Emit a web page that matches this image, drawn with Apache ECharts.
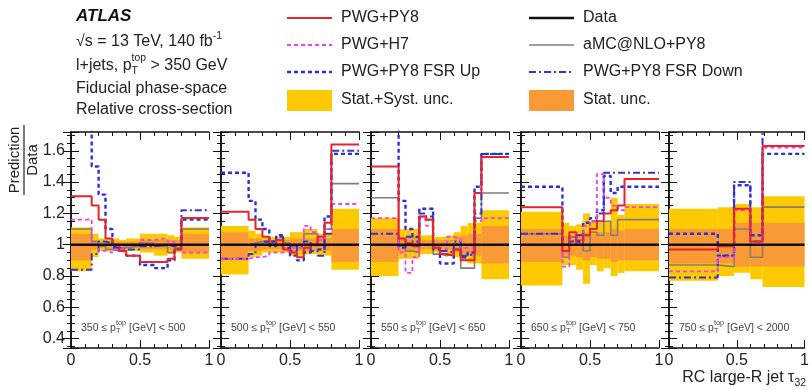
<!DOCTYPE html>
<html>
<head>
<meta charset="utf-8">
<script src="https://cdn.jsdelivr.net/npm/echarts@6/dist/echarts.min.js"></script>
<style>
  html, body { margin: 0; background: #fff; }
  #chart { width: 812px; height: 390px; }
</style>
</head>
<body>
<div id="chart"></div>
<script>
// bin edges per pT slice
const edges = [
  [0, 0.15, 0.2, 0.25, 0.3, 0.35, 0.4, 0.5, 0.6, 0.7, 0.75, 0.8, 1],
  [0, 0.2, 0.25, 0.3, 0.35, 0.4, 0.45, 0.5, 0.55, 0.6, 0.65, 0.7, 0.75, 0.8, 1],
  [0, 0.2, 0.25, 0.3, 0.35, 0.4, 0.45, 0.5, 0.55, 0.6, 0.65, 0.7, 0.75, 0.8, 1],
  [0, 0.3, 0.35, 0.4, 0.45, 0.5, 0.55, 0.6, 0.65, 0.7, 0.75, 1],
  [0, 0.36, 0.48, 0.6, 0.69, 1]
];
const pwgPy8 = [
  [1.31, 1.25, 1.16, 1.04, 1.0, 0.96, 0.93, 0.89, 0.89, 0.91, 0.97, 1.17],
  [1.21, 1.16, 1.1, 1.05, 1.0, 1.03, 0.97, 0.95, 0.92, 0.98, 1.0, 1.05, 1.14, 1.64],
  [1.5, 1.04, 1.01, 0.99, 1.18, 1.16, 0.98, 0.94, 0.93, 0.97, 0.9, 0.9, 1.33, 1.56],
  [1.24, 0.96, 1.08, 1.0, 1.06, 1.1, 1.15, 1.2, 1.22, 1.25, 1.42],
  [0.97, 0.99, 1.23, 1.02, 1.63]
];
const pwgH7 = [
  [1.16, 1.0, 0.96, 0.95, 0.97, 0.98, 1.0, 1.03, 1.04, 1.02, 1.0, 0.95],
  [0.91, 0.92, 0.92, 0.93, 0.95, 0.95, 0.96, 0.98, 0.98, 1.12, 1.08, 1.03, 1.1, 1.26],
  [1.17, 0.95, 0.82, 0.92, 1.16, 1.12, 0.98, 0.97, 1.05, 1.04, 0.98, 0.98, 1.15, 1.17],
  [1.0, 0.86, 1.05, 1.0, 1.12, 1.15, 1.45, 1.3, 1.25, 1.22, 1.24],
  [0.83, 0.92, 1.22, 1.0, 1.62]
];
const fsrUp = [
  [1.75, 1.5, 1.32, 1.1, 0.99, 0.96, 0.93, 0.87, 0.85, 0.9, 0.97, 1.16],
  [1.46, 1.28, 1.16, 1.1, 1.02, 1.06, 0.98, 0.93, 0.9, 0.95, 1.0, 0.97, 1.18, 1.58],
  [1.75, 1.28, 1.1, 1.05, 1.23, 1.23, 0.97, 0.88, 0.88, 1.0, 0.92, 0.95, 1.37, 1.58],
  [1.37, 1.0, 1.05, 1.02, 1.14, 1.17, 1.22, 1.44, 1.33, 1.37, 1.37],
  [1.07, 0.93, 1.38, 1.06, 1.58]
];
const fsrDown = [
  [0.84, 0.94, 1.02, 1.01, 0.98, 0.97, 0.97, 0.99, 1.0, 0.99, 1.0, 1.22],
  [0.91, 0.94, 1.0, 1.02, 0.99, 1.05, 1.0, 0.96, 0.99, 1.02, 0.96, 0.93, 1.07, 1.6],
  [1.07, 0.98, 1.05, 1.02, 1.2, 1.18, 0.98, 0.96, 0.95, 1.02, 0.93, 0.94, 1.2, 1.58],
  [1.07, 1.0, 1.02, 1.06, 1.06, 1.15, 1.2, 1.46, 1.46, 1.46, 1.46],
  [0.79, 0.93, 1.4, 1.02, 1.75]
];
const amcPy8 = [
  [1.1, 1.02, 0.99, 0.97, 0.96, 0.98, 0.99, 1.01, 0.99, 0.95, 0.98, 1.1],
  [1.0, 1.01, 1.02, 1.01, 1.0, 1.03, 1.01, 0.99, 1.0, 1.07, 1.07, 1.0, 1.1, 1.39],
  [1.3, 0.99, 0.96, 0.95, 1.18, 1.16, 0.94, 0.93, 0.94, 0.97, 0.85, 0.85, 1.17, 1.33],
  [1.07, 0.92, 1.05, 1.03, 0.96, 1.08, 1.06, 1.15, 1.06, 1.16, 1.16],
  [0.87, 0.86, 1.1, 0.92, 1.24]
];
const systLo = [
  [0.83, 0.92, 0.96, 0.96, 0.96, 0.97, 0.96, 0.95, 0.93, 0.94, 0.95, 0.91],
  [0.81, 0.92, 0.93, 0.95, 0.95, 0.95, 0.95, 0.93, 0.93, 0.94, 0.94, 0.93, 0.93, 0.84],
  [0.8, 0.91, 0.91, 0.91, 0.94, 0.94, 0.95, 0.95, 0.94, 0.92, 0.9, 0.88, 0.88, 0.78],
  [0.74, 0.87, 0.87, 0.84, 0.75, 0.87, 0.83, 0.85, 0.8, 0.82, 0.83],
  [0.77, 0.8, 0.82, 0.78, 0.73]
];
const systHi = [
  [1.11, 1.07, 1.04, 1.04, 1.04, 1.03, 1.04, 1.07, 1.07, 1.06, 1.05, 1.11],
  [1.12, 1.09, 1.07, 1.05, 1.05, 1.05, 1.05, 1.08, 1.08, 1.1, 1.1, 1.07, 1.07, 1.23],
  [1.17, 1.1, 1.1, 1.1, 1.06, 1.06, 1.05, 1.05, 1.06, 1.08, 1.12, 1.14, 1.14, 1.22],
  [1.21, 1.14, 1.12, 1.13, 1.2, 1.15, 1.14, 1.15, 1.3, 1.19, 1.26],
  [1.23, 1.24, 1.26, 1.24, 1.31]
];
const statLo = [
  [0.9, 0.97, 0.98, 0.98, 0.98, 0.98, 0.98, 0.97, 0.97, 0.97, 0.97, 0.95],
  [0.9, 0.96, 0.96, 0.97, 0.97, 0.97, 0.97, 0.96, 0.96, 0.96, 0.96, 0.96, 0.96, 0.89],
  [0.89, 0.95, 0.95, 0.95, 0.97, 0.97, 0.97, 0.97, 0.97, 0.95, 0.94, 0.93, 0.93, 0.88],
  [0.89, 0.93, 0.93, 0.92, 0.9, 0.92, 0.91, 0.91, 0.89, 0.9, 0.9],
  [0.88, 0.88, 0.86, 0.86, 0.86]
];
const statHi = [
  [1.07, 1.03, 1.02, 1.02, 1.02, 1.02, 1.02, 1.03, 1.03, 1.03, 1.03, 1.07],
  [1.08, 1.04, 1.04, 1.03, 1.03, 1.03, 1.03, 1.04, 1.04, 1.04, 1.04, 1.04, 1.04, 1.1],
  [1.1, 1.05, 1.05, 1.05, 1.03, 1.03, 1.03, 1.03, 1.03, 1.05, 1.06, 1.07, 1.07, 1.12],
  [1.1, 1.06, 1.06, 1.07, 1.08, 1.07, 1.08, 1.08, 1.1, 1.09, 1.1],
  [1.1, 1.1, 1.14, 1.14, 1.14]
];
const ptLow = ['350', '500', '550', '650', '750'];
const ptHigh = ['500', '550', '650', '750', '2000'];
const dataRatio = 1;

const FONT = '"Liberation Sans", Arial, Helvetica, sans-serif';
const gridLeft = [71, 221, 371, 521, 669];
const gridTop = 132, gridW = 138, gridH = 216;
const yMin = 0.34, yMax = 1.72;

const measure = document.createElement('canvas').getContext('2d');
function textWidth(t, size, weight, style) {
  measure.font = `${style || 'normal'} ${weight || 'normal'} ${size}px ${FONT}`;
  return measure.measureText(t).width;
}

// text with sub/superscripts built from pieces
function richText(x, y, parts, size, color, opts) {
  opts = opts || {};
  const els = [];
  let cx = x, lastX = x;
  parts.forEach(pt => {
    const fs = size * (pt.k || 1);
    const w = textWidth(pt.t, fs, opts.weight, opts.style);
    const px = pt.stack ? lastX : cx;
    els.push({
      type: 'text', x: px, y: y + (pt.dy || 0), silent: true,
      style: {
        text: pt.t, fill: color, textVerticalAlign: 'middle',
        font: `${opts.style || 'normal'} ${opts.weight || 'normal'} ${fs}px ${FONT}`
      }
    });
    cx = pt.stack ? Math.max(cx, px + w) : px + w;
    lastX = px;
  });
  return els;
}

const grids = [], xAxes = [], yAxes = [], series = [], graphics = [];
const axisCol = '#111';

edges.forEach((e, p) => {
  grids.push({ left: gridLeft[p], top: gridTop, width: gridW, height: gridH });
  xAxes.push({
    gridIndex: p, type: 'value', min: 0, max: 1, interval: 0.5,
    axisLine: { lineStyle: { color: axisCol, width: 1.5 } },
    axisTick: { inside: true, length: 8, lineStyle: { color: axisCol } },
    minorTick: { show: true, splitNumber: 5, length: 4, lineStyle: { color: axisCol } },
    splitLine: { show: false },
    axisLabel: {
      fontFamily: FONT, fontSize: 16, color: '#222', margin: 5,
      formatter: v => (v === 0 ? '0' : v === 1 ? '1' : '0.5')
    }
  });
  xAxes.push({
    gridIndex: p, type: 'value', min: 0, max: 1, interval: 0.5, position: 'top',
    axisLine: { lineStyle: { color: axisCol, width: 1.5 } },
    axisTick: { inside: true, length: 8, lineStyle: { color: axisCol } },
    minorTick: { show: true, splitNumber: 5, length: 4, lineStyle: { color: axisCol } },
    splitLine: { show: false }, axisLabel: { show: false }
  });
  const yBase = {
    gridIndex: p, type: 'value', min: yMin, max: yMax, splitNumber: 7,
    axisLine: { show: true, lineStyle: { color: axisCol, width: 1.5 } },
    axisTick: { inside: true, length: 8, lineStyle: { color: axisCol } },
    minorTick: { show: true, splitNumber: 4, length: 4, lineStyle: { color: axisCol } },
    splitLine: { show: false }
  };
  yAxes.push(Object.assign({}, yBase, {
    axisLabel: {
      show: p === 0, fontFamily: FONT, fontSize: 16, color: '#222', margin: 6,
      formatter: v => {
        const r = Math.round(v * 5);
        if (Math.abs(v * 5 - r) > 1e-6 || v < 0.39 || v > 1.61) return '';
        return r === 5 ? '1' : (r / 5).toFixed(1);
      }
    }
  }));
  yAxes.push(Object.assign({}, yBase, { position: 'right', axisLabel: { show: false } }));

  const xi = 2 * p, yi = 2 * p;
  const band = (lo, hi, color) => ({
    type: 'custom', xAxisIndex: xi, yAxisIndex: yi, silent: true,
    data: lo[p].map((l, i) => [e[i], e[i + 1], l, hi[p][i]]),
    encode: { x: [0, 1], y: [2, 3] },
    renderItem: (params, api) => {
      const a = api.coord([api.value(0), api.value(3)]);
      const b = api.coord([api.value(1), api.value(2)]);
      return { type: 'rect', shape: { x: a[0], y: a[1], width: b[0] - a[0], height: b[1] - a[1] }, style: { fill: color } };
    }
  });
  const step = (vals, lineStyle) => {
    const pts = vals[p].map((v, i) => [e[i], v]);
    pts.push([e[e.length - 1], vals[p][vals[p].length - 1]]);
    return {
      type: 'line', step: 'end', xAxisIndex: xi, yAxisIndex: yi, data: pts,
      symbol: 'none', silent: true, lineStyle
    };
  };
  series.push(band(systLo, systHi, '#fdc900'));
  series.push(band(statLo, statHi, '#f99a36'));
  series.push(step(amcPy8, { color: '#8a7a72', width: 1.6 }));
  series.push(step(fsrDown, { color: '#3535c8', width: 2, type: [7, 3, 2, 3] }));
  series.push(step(fsrUp, { color: '#2f2fd8', width: 2.4, type: [4, 3] }));
  series.push(step(pwgH7, { color: '#f040f0', width: 1.8, type: [4, 3] }));
  series.push(step(pwgPy8, { color: '#e8232b', width: 2 }));
  series.push({
    type: 'line', xAxisIndex: xi, yAxisIndex: yi, symbol: 'none', silent: true,
    data: [[0, dataRatio], [1, dataRatio]], lineStyle: { color: '#111', width: 2.5 }
  });

  graphics.push(...richText(gridLeft[p] + 10, 328, [
    { t: ptLow[p] + ' \u2264 p' },
    { t: 'T', k: 0.7, dy: 3 },
    { t: 'top', k: 0.7, dy: -5, stack: true },
    { t: ' [GeV] < ' + ptHigh[p] }
  ], 10.5, '#444'));
});

// ATLAS label block
graphics.push({ type: 'text', x: 76, y: 16, style: { text: 'ATLAS', fill: '#111', textVerticalAlign: 'middle', font: `italic bold 17px ${FONT}` } });
graphics.push(...richText(76, 42, [
  { t: '\u221As = 13 TeV, 140 fb' }, { t: '-1', k: 0.65, dy: -6 }
], 16, '#222'));
graphics.push(...richText(76, 66, [
  { t: 'l+jets, p' }, { t: 'T', k: 0.65, dy: 5 }, { t: 'top', k: 0.65, dy: -8, stack: true }, { t: ' > 350 GeV' }
], 16, '#222'));
graphics.push({ type: 'text', x: 76, y: 89, style: { text: 'Fiducial phase-space', fill: '#222', textVerticalAlign: 'middle', font: `16px ${FONT}` } });
graphics.push({ type: 'text', x: 76, y: 110, style: { text: 'Relative cross-section', fill: '#222', textVerticalAlign: 'middle', font: `16px ${FONT}` } });

// legend
const legendRows = [18, 45, 72, 100];
const legendItems = [
  { col: 0, row: 0, name: 'PWG+PY8', line: { stroke: '#e8232b', lineWidth: 2 } },
  { col: 0, row: 1, name: 'PWG+H7', line: { stroke: '#f040f0', lineWidth: 1.8, lineDash: [4, 3] } },
  { col: 0, row: 2, name: 'PWG+PY8 FSR Up', line: { stroke: '#2f2fd8', lineWidth: 2.4, lineDash: [4, 3] } },
  { col: 0, row: 3, name: 'Stat.+Syst. unc.', box: '#fdc900' },
  { col: 1, row: 0, name: 'Data', line: { stroke: '#111', lineWidth: 2.5 } },
  { col: 1, row: 1, name: 'aMC@NLO+PY8', line: { stroke: '#8a7a72', lineWidth: 1.6 } },
  { col: 1, row: 2, name: 'PWG+PY8 FSR Down', line: { stroke: '#3535c8', lineWidth: 2, lineDash: [7, 3, 2, 3] } },
  { col: 1, row: 3, name: 'Stat. unc.', box: '#f99a36' }
];
const legendX = [287, 529];
legendItems.forEach(it => {
  const x0 = legendX[it.col], y = legendRows[it.row];
  if (it.box) {
    graphics.push({ type: 'rect', silent: true, shape: { x: x0, y: y - 10, width: 45, height: 21 }, style: { fill: it.box } });
  } else {
    graphics.push({ type: 'line', silent: true, shape: { x1: x0, y1: y, x2: x0 + 45, y2: y }, style: it.line });
  }
  graphics.push({ type: 'text', x: x0 + 54, y, silent: true, style: { text: it.name, fill: '#222', textVerticalAlign: 'middle', font: `16px ${FONT}` } });
});

// y-axis title as a fraction
graphics.push({ type: 'text', x: 15, y: 160, rotation: Math.PI / 2, silent: true, style: { text: 'Prediction', fill: '#222', textAlign: 'center', textVerticalAlign: 'middle', font: `15px ${FONT}` } });
graphics.push({ type: 'line', silent: true, shape: { x1: 24, y1: 125, x2: 24, y2: 195 }, style: { stroke: '#222', lineWidth: 1.2 } });
graphics.push({ type: 'text', x: 33, y: 160, rotation: Math.PI / 2, silent: true, style: { text: 'Data', fill: '#222', textAlign: 'center', textVerticalAlign: 'middle', font: `15px ${FONT}` } });

// x-axis title
const xt = [{ t: 'RC large-R jet \u03C4' }, { t: '32', k: 0.65, dy: 5 }];
const xtW = textWidth(xt[0].t, 16) + textWidth('32', 16 * 0.65);
graphics.push(...richText(806 - xtW, 378, xt, 16, '#222'));

const chart = echarts.init(document.getElementById('chart'));
chart.setOption({
  animation: false,
  backgroundColor: '#fff',
  grid: grids,
  xAxis: xAxes,
  yAxis: yAxes,
  series,
  graphic: { elements: graphics }
});
</script>
</body>
</html>
